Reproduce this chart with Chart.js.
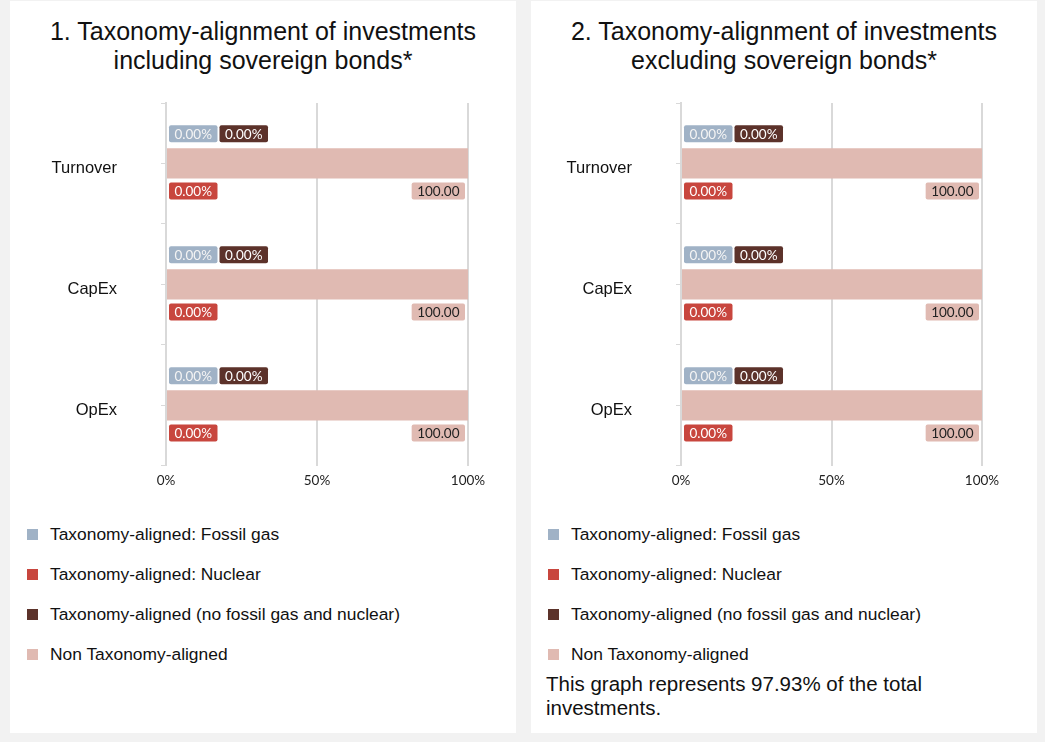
<!DOCTYPE html>
<html>
<head>
<meta charset="utf-8">
<script src="https://cdn.jsdelivr.net/npm/chart.js@4.4.0/dist/chart.umd.min.js"></script>
<style>
  html, body { margin: 0; padding: 0; }
  body { width: 1045px; height: 742px; background: #f2f2f2; overflow: hidden; position: relative; font-family: "Liberation Sans", Arial, sans-serif; color: #111; }
  .panel { position: absolute; top: 1px; width: 506px; height: 732px; background: #fff; }
  .title { position: absolute; top: 16px; left: 0; width: 100%; text-align: center; font-size: 25px; line-height: 29px; }
  .chart-box { position: absolute; top: 88px; left: 0; width: 506px; height: 412px; }
  .legend { position: absolute; top: 513px; left: 17px; }
  .legend-item { height: 40px; display: flex; align-items: center; font-size: 17.4px; }
  .legend-item span.sw { display: inline-block; width: 11px; height: 11px; margin-right: 12px; }
  .note { position: absolute; top: 671px; left: 15px; width: 440px; font-size: 20.5px; line-height: 24px; }
</style>
</head>
<body>
<div class="panel" style="left:10px">
  <div class="title">1. Taxonomy-alignment of investments<br>including sovereign bonds*</div>
  <div class="chart-box"><canvas id="chart-incl"></canvas></div>
  <div class="legend" id="legend-incl"></div>
</div>
<div class="panel" style="left:531px">
  <div class="title">2. Taxonomy-alignment of investments<br>excluding sovereign bonds*</div>
  <div class="chart-box"><canvas id="chart-excl"></canvas></div>
  <div class="legend" id="legend-excl"></div>
  <div class="note">This graph represents 97.93% of the total investments.</div>
</div>
<script>
const categories = ["Turnover", "CapEx", "OpEx"];
const seriesNames = [
  "Taxonomy-aligned: Fossil gas",
  "Taxonomy-aligned: Nuclear",
  "Taxonomy-aligned (no fossil gas and nuclear)",
  "Non Taxonomy-aligned",
];
const seriesColors = ["#a0b2c6", "#c8463e", "#5c322a", "#e0bab2"];
const tagTextColors = ["#f4f4f4", "#ffffff", "#ffffff", "#222222"];
const xTicks = [0, 50, 100];

// chart 1: including sovereign bonds
const fossilGasIncl = [0, 0, 0];
const nuclearIncl = [0, 0, 0];
const otherAlignedIncl = [0, 0, 0];
const nonAlignedIncl = [100, 100, 100];

// chart 2: excluding sovereign bonds
const fossilGasExcl = [0, 0, 0];
const nuclearExcl = [0, 0, 0];
const otherAlignedExcl = [0, 0, 0];
const nonAlignedExcl = [100, 100, 100];

// little rounded value boxes around each bar
function drawTag(ctx, text, x, y, alignRight, above, bg, fg) {
  const w = ctx.measureText(text).width + 11;
  const h = 17;
  const left = alignRight ? x - w : x;
  const top = above ? y - h : y;
  ctx.fillStyle = bg;
  ctx.beginPath();
  ctx.roundRect(left, top, w, h, 2);
  ctx.fill();
  ctx.fillStyle = fg;
  ctx.fillText(text, left + w / 2, top + h / 2 + 0.5);
  return left + w;
}

const tagPlugin = {
  id: "tags",
  afterDatasetsDraw(chart) {
    const ctx = chart.ctx;
    const ds = chart.data.datasets;
    const metas = ds.map((d, i) => chart.getDatasetMeta(i));
    ctx.save();
    ctx.font = "13.5px Lato";
    ctx.textAlign = "center";
    ctx.textBaseline = "middle";
    categories.forEach((c, i) => {
      const big = metas[3].data[i].getProps(["x", "y", "base", "height"], true);
      const top = big.y - big.height / 2;
      const bottom = big.y + big.height / 2;
      const b0 = metas[0].data[i].getProps(["base"], true).base;
      const b1 = metas[1].data[i].getProps(["base"], true).base;
      const b2 = metas[2].data[i].getProps(["base"], true).base;
      const end = drawTag(ctx, ds[0].data[i].toFixed(2) + "%", b0 + 3, top - 6, false, true, seriesColors[0], tagTextColors[0]);
      drawTag(ctx, ds[2].data[i].toFixed(2) + "%", Math.max(end + 2, b2 + 3), top - 6, false, true, seriesColors[2], tagTextColors[2]);
      drawTag(ctx, ds[1].data[i].toFixed(2) + "%", b1 + 3, bottom + 4, false, false, seriesColors[1], tagTextColors[1]);
      drawTag(ctx, ds[3].data[i].toFixed(2), big.x - 3, bottom + 4, true, false, seriesColors[3], tagTextColors[3]);
    });
    // tick marks at category centres
    const y = chart.scales.y;
    ctx.strokeStyle = "#d9d9d9";
    ctx.lineWidth = 1;
    categories.forEach((c, i) => {
      const py = Math.round(y.getPixelForValue(i)) + 0.5;
      ctx.beginPath();
      ctx.moveTo(y.right - 5, py);
      ctx.lineTo(y.right, py);
      ctx.stroke();
    });
    ctx.restore();
  },
};

function makeChart(canvasId, legendId, values, pad) {
  const datasets = values.map((v, i) => ({
    label: seriesNames[i],
    data: v,
    backgroundColor: seriesColors[i],
    borderWidth: 0,
    categoryPercentage: 0.5,
    barPercentage: 0.5,
  }));
  new Chart(document.getElementById(canvasId).getContext("2d"), {
    type: "bar",
    data: { labels: categories, datasets: datasets },
    options: {
      indexAxis: "y",
      responsive: true,
      maintainAspectRatio: false,
      animation: false,
      layout: { padding: pad },
      plugins: {
        legend: { display: false },
        tooltip: { enabled: false },
      },
      scales: {
        x: {
          stacked: true,
          min: xTicks[0],
          max: xTicks[xTicks.length - 1],
          afterBuildTicks: (scale) => { scale.ticks = xTicks.map((v) => ({ value: v })); },
          grid: { color: "#d9d9d9", lineWidth: 2, drawTicks: false },
          border: { display: false },
          ticks: {
            padding: 7,
            color: "#222",
            font: { family: "Lato", size: 13.5 },
            callback: (v) => v + "%",
          },
        },
        y: {
          stacked: true,
          grid: { drawOnChartArea: false, color: "#d9d9d9", tickLength: 5, lineWidth: 1 },
          border: { color: "#d9d9d9", width: 2 },
          ticks: {
            padding: 44,
            labelOffset: 5,
            color: "#111",
            font: { family: "Liberation Sans", size: 16.5 },
          },
          afterFit: (scale) => {
            scale.width = 116;
            scale.paddingTop = 0;
            scale.paddingBottom = 0;
          },
        },
      },
    },
    plugins: [tagPlugin],
  });
  const legend = document.getElementById(legendId);
  seriesNames.forEach((name, i) => {
    const row = document.createElement("div");
    row.className = "legend-item";
    row.innerHTML = '<span class="sw" style="background:' + seriesColors[i] + '"></span>' + name;
    legend.appendChild(row);
  });
}

makeChart("chart-incl", "legend-incl",
  [fossilGasIncl, nuclearIncl, otherAlignedIncl, nonAlignedIncl],
  { left: 40, right: 48, top: 14, bottom: 5 });
makeChart("chart-excl", "legend-excl",
  [fossilGasExcl, nuclearExcl, otherAlignedExcl, nonAlignedExcl],
  { left: 34, right: 55, top: 14, bottom: 5 });
</script>
</body>
</html>
